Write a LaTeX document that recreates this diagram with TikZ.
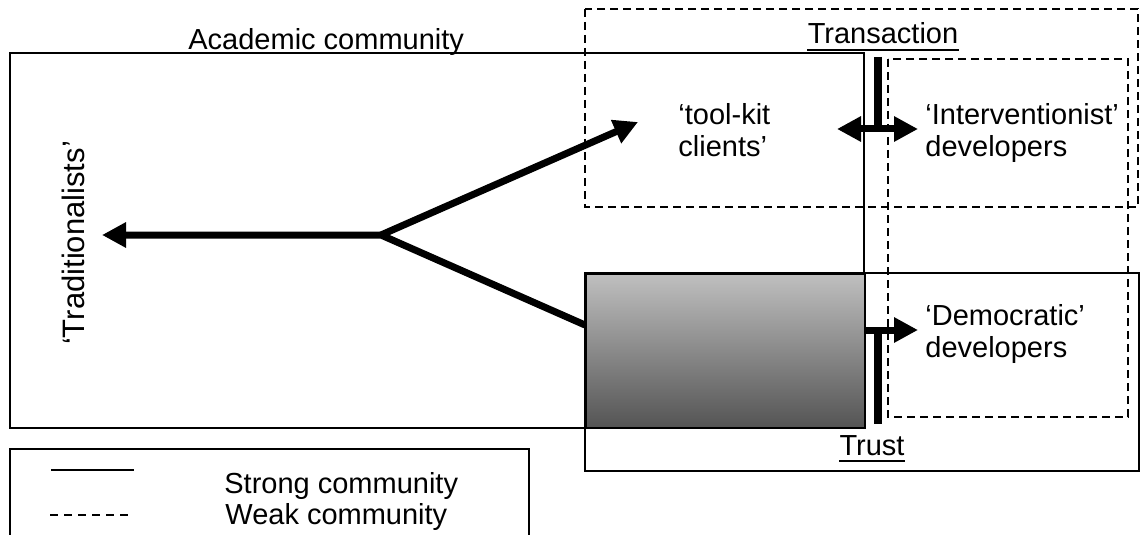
\documentclass[tikz,border=0pt]{standalone}
\usepackage{fontspec}
\setmainfont{Liberation Sans}
\usetikzlibrary{arrows.meta,calc}
\begin{document}
\begin{tikzpicture}[x=0.5pt,y=-0.5pt,
  txt/.style={inner sep=0pt,font=\fontsize{14.5}{16}\selectfont},
  lbl/.style={txt,anchor=base west,text width=110pt,align=left},
  strong/.style={draw=black,line width=0.8pt},
  weak/.style={draw=black,line width=0.75pt,dash pattern=on 4pt off 2.5pt},
  thick flow/.style={line width=3.5pt,line join=miter},
  flow/.style={thick flow,-{Triangle[length=12pt,width=12pt]}},
  bar/.style={line width=3.7pt},
  uline/.style={line width=1pt}
]
\useasboundingbox (0,0) rectangle (1140,535);
\clip (0,0) rectangle (1140,535);

% community boundaries
\draw[strong] (10,53) rectangle (864,428);
\draw[weak] (585,9) rectangle (1138,207);
\draw[strong] (585,273) rectangle (1139,471);
\draw[weak] (888,59) rectangle (1128,417);

% shaded overlap of the academic and trust communities
\node[draw=black,line width=0.8pt,inner sep=0pt,anchor=north west,
      minimum width=139.5pt,minimum height=77pt,
      top color=gray!50,bottom color=black!67] (hybrid) at (585,273) {};

% labels
\node[txt,anchor=base west] (acad) at (188,50) {Academic community};
\node[txt,anchor=base] (trans) at (883,44) {Transaction};
\draw[uline] ($(trans.base west)+(0,6)$) -- ($(trans.base east)+(0,6)$);
\node[txt,anchor=base] (trust) at (872,455) {Trust};
\draw[uline] ($(trust.base west)+(0,6)$) -- ($(trust.base east)+(0,6)$);
\node[lbl] (toolkit) at (678,125) {‘tool-kit\\clients’};
\node[lbl] (interv) at (925,125) {‘Interventionist’\\developers};
\node[lbl] (democ) at (925,325) {‘Democratic’\\developers};
\node[txt,font=\fontsize{15.5}{17}\selectfont,rotate=90,anchor=base] (trad) at (84,243) {‘Traditionalists’};

% branching arrows
\coordinate (fork) at (381,235);
\coordinate (tradtip) at (102,235);
\coordinate (tooltip) at (638,122);
\coordinate (hybridin) at (585,325);
\draw[flow] (hybridin) -- (fork) -- (tradtip);
\draw[flow] (fork) -- (tooltip);

% transaction link
\coordinate (dL) at (837,129);
\coordinate (dR) at (918,129);
\coordinate (barT) at (878,57);
\coordinate (barM) at (878,129);
\draw[thick flow,{Triangle[length=12pt,width=12pt]}-{Triangle[length=12pt,width=12pt]}] (dL) -- (dR);
\draw[bar] (barT) -- (barM);

% trust link
\coordinate (hybridout) at (864,330);
\coordinate (demtip) at (918,330);
\coordinate (barB) at (878,424);
\coordinate (barN) at (878,330);
\draw[flow] (hybridout) -- (demtip);
\draw[bar] (barN) -- (barB);

% legend
\draw[strong] (10,449) rectangle (529,560);
\coordinate (ls1) at (51,470);
\coordinate (ls2) at (134,470);
\coordinate (ld1) at (50,515);
\coordinate (ld2) at (128,515);
\draw[strong] (ls1) -- (ls2);
\draw[weak,dash pattern=on 4pt off 3pt] (ld1) -- (ld2);
\node[txt,anchor=base west] (strongtxt) at (224,493) {Strong community};
\node[txt,anchor=base west] (weaktxt) at (225,524) {Weak community};
\end{tikzpicture}
\end{document}
